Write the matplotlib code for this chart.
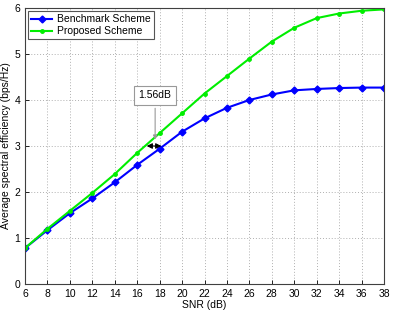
import matplotlib
matplotlib.use("Agg")
import matplotlib.pyplot as plt

plt.rcParams['font.family'] = ['Liberation Sans', 'DejaVu Sans']

snr = [6, 8, 10, 12, 14, 16, 18, 20, 22, 24, 26, 28, 30, 32, 34, 36, 38]
benchmark = [0.78, 1.17, 1.54, 1.86, 2.21, 2.59, 2.94, 3.31, 3.60, 3.83, 4.00, 4.12, 4.21, 4.24, 4.26, 4.27, 4.27]
proposed = [0.78, 1.20, 1.59, 1.98, 2.39, 2.85, 3.28, 3.71, 4.14, 4.52, 4.90, 5.27, 5.57, 5.78, 5.88, 5.94, 5.97]

fig = plt.figure(figsize=(4.08, 3.11), dpi=100)
ax = fig.add_axes([25 / 408, 1 - 284 / 311, 359 / 408, 276 / 311])

ax.plot(snr, benchmark, color='#0000ff', lw=1.5, marker='D', ms=3.5, label='Benchmark Scheme')
ax.plot(snr, proposed, color='#00ee00', lw=1.5, marker='o', ms=2.5, label='Proposed Scheme')

ax.set_xlim(6, 38)
ax.set_ylim(0, 6)
ax.set_xticks(range(6, 39, 2))
ax.set_yticks(range(0, 7))
ax.grid(True, ls=(0, (1, 2)), color='#b0b0b0', lw=0.7)
ax.tick_params(labelsize=7.5, direction='in', length=3, width=0.6)
for s in ax.spines.values():
    s.set_linewidth(0.8)
    s.set_color('#404040')
ax.set_xlabel('SNR (dB)', fontsize=7.5, labelpad=1)
ax.set_ylabel('Average spectral efficiency (bps/Hz)', fontsize=7.5, labelpad=2)

# 1.56 dB gap annotation
ax.annotate('', xy=(16.6, 3.0), xytext=(18.4, 3.0),
            arrowprops=dict(arrowstyle='<|-|>', color='black', lw=0.8, mutation_scale=8))
ax.annotate('1.56dB', xy=(17.6, 3.08), xytext=(17.6, 4.1), fontsize=7.5,
            ha='center', va='center',
            bbox=dict(boxstyle='square,pad=0.45', fc='white', ec='#999999', lw=0.8),
            arrowprops=dict(arrowstyle='-|>', color='#999999', lw=0.8, mutation_scale=6))

leg = ax.legend(loc='upper left', fontsize=7.5, fancybox=False, edgecolor='#555555',
                framealpha=1, borderaxespad=0.3, handlelength=2.0, borderpad=0.3,
                labelspacing=0.2, handletextpad=0.5)
leg.get_frame().set_linewidth(0.8)

fig.savefig('out.png', dpi=100)
